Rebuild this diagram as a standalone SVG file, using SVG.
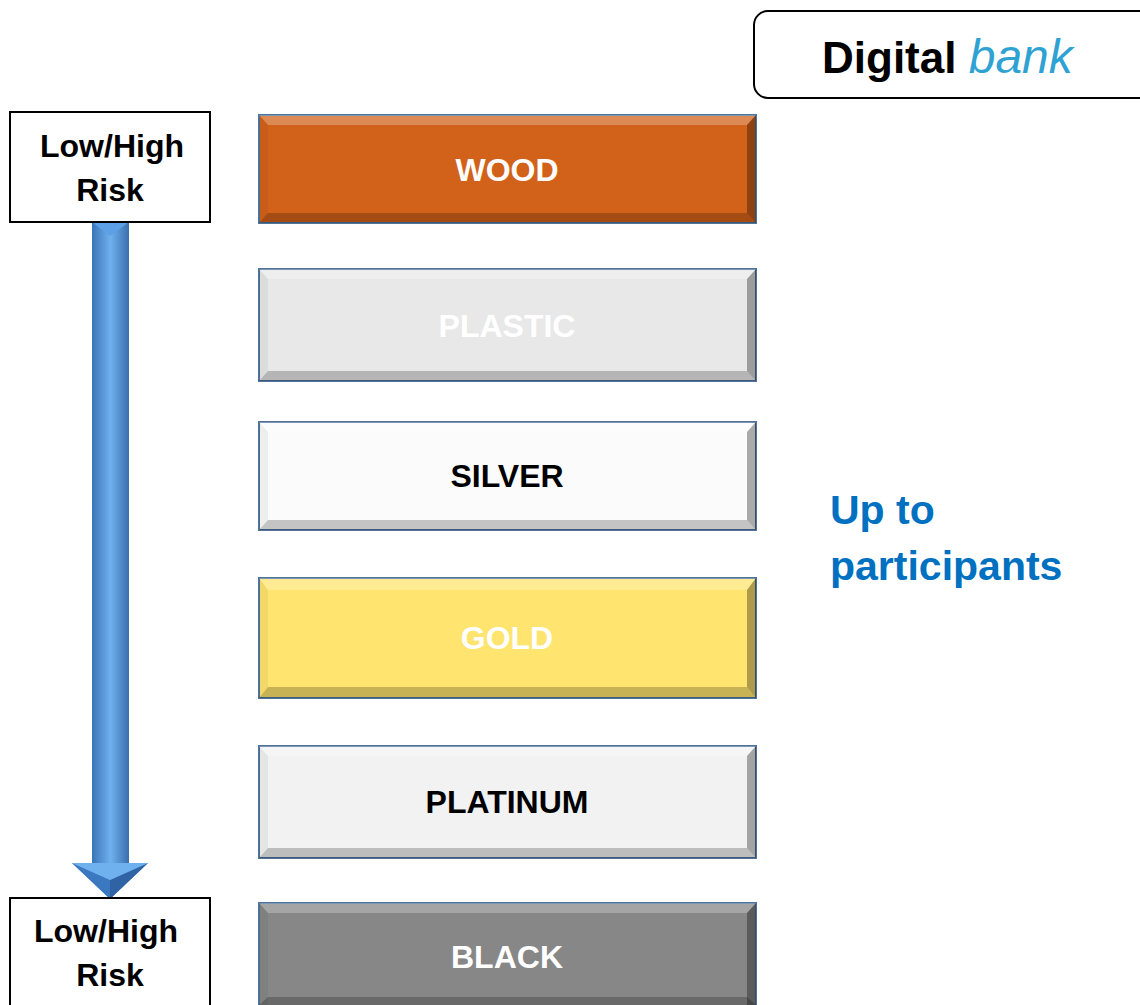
<svg xmlns="http://www.w3.org/2000/svg" width="1140" height="1005" viewBox="0 0 1140 1005">
<defs>
<linearGradient id="shaft" x1="0" y1="0" x2="1" y2="0">
<stop offset="0" stop-color="#3a74b8"/>
<stop offset="0.5" stop-color="#6fb0ee"/>
<stop offset="1" stop-color="#3a6fae"/>
</linearGradient>
</defs>
<style>
.lbl{font-family:"Liberation Sans",Arial,sans-serif;font-weight:bold;text-anchor:middle}
.box{fill:#fff;stroke:#000;stroke-width:2}
.bar{stroke:#4f7399;stroke-width:2}
.hl{fill:#fff;opacity:0.25}
.sh{fill:#000;opacity:0.22}
.lf{fill:#000;opacity:0.05}
.rt{fill:#000;opacity:0.32}
</style>
<rect width="1140" height="1005" fill="#fff"/>

<g id="digital-bank">
<rect x="754" y="11" width="400" height="87" rx="14" fill="#fff" stroke="#000" stroke-width="2"/>
<text x="822" y="73" font-family="Liberation Sans,Arial,sans-serif" font-size="44" font-weight="bold" fill="#000">Digital <tspan font-weight="normal" font-style="italic" font-size="48" fill="#2ea3d3">bank</tspan></text>
</g>

<g id="connectors">
<rect x="92" y="222" width="37" height="642" fill="url(#shaft)"/>
<polygon points="72,863 148,863 110,899" fill="#4f8fd6"/>
<polygon points="72,863 110,880 110,899" fill="#3b78c0"/>
<polygon points="148,863 110,880 110,899" fill="#2f63a3"/>
<polygon points="72,863 148,863 110,880" fill="#6fb0ee"/>
<polygon points="92,222 129,222 110,236" fill="#5da0e6"/>
</g>

<g id="risk-top">
<rect class="box" x="10" y="112" width="200" height="110"/>
<text class="lbl" x="112" y="157" font-size="32">Low/High</text>
<text class="lbl" x="110" y="201" font-size="32">Risk</text>
</g>

<g id="risk-bottom">
<rect class="box" x="10" y="898" width="200" height="120"/>
<text class="lbl" x="106" y="942" font-size="32">Low/High</text>
<text class="lbl" x="110" y="986" font-size="32">Risk</text>
</g>

<g id="wood">
<rect class="bar" x="259" y="115" width="497" height="108" fill="#d2621a"/>
<polygon class="hl" points="259,115 756,115 747,125 268,125"/>
<polygon class="sh" points="259,223 756,223 747,213 268,213"/>
<polygon class="lf" points="259,115 268,125 268,213 259,223"/>
<polygon class="rt" points="756,115 747,125 747,213 756,223"/>
<text class="lbl" x="507" y="181" font-size="32" fill="#fff">WOOD</text>
</g>

<g id="plastic">
<rect class="bar" x="259" y="269" width="497" height="112" fill="#e8e8e8"/>
<polygon class="hl" points="259,269 756,269 747,279 268,279"/>
<polygon class="sh" points="259,381 756,381 747,371 268,371"/>
<polygon class="lf" points="259,269 268,279 268,371 259,381"/>
<polygon class="rt" points="756,269 747,279 747,371 756,381"/>
<text class="lbl" x="507" y="337" font-size="32" fill="#fff">PLASTIC</text>
</g>

<g id="silver">
<rect class="bar" x="259" y="422" width="497" height="108" fill="#fbfbfb"/>
<polygon class="hl" points="259,422 756,422 747,432 268,432"/>
<polygon class="sh" points="259,530 756,530 747,520 268,520"/>
<polygon class="lf" points="259,422 268,432 268,520 259,530"/>
<polygon class="rt" points="756,422 747,432 747,520 756,530"/>
<text class="lbl" x="507" y="487" font-size="32" fill="#000">SILVER</text>
</g>

<g id="gold">
<rect class="bar" x="259" y="578" width="497" height="120" fill="#ffe46f"/>
<polygon class="hl" points="259,578 756,578 747,590 268,590"/>
<polygon class="sh" points="259,698 756,698 747,687 268,687"/>
<polygon class="lf" points="259,578 268,590 268,687 259,698"/>
<polygon class="rt" points="756,578 747,590 747,687 756,698"/>
<text class="lbl" x="507" y="649" font-size="32" fill="#fff">GOLD</text>
</g>

<g id="platinum">
<rect class="bar" x="259" y="746" width="497" height="112" fill="#f2f2f2"/>
<polygon class="hl" points="259,746 756,746 747,756 268,756"/>
<polygon class="sh" points="259,858 756,858 747,848 268,848"/>
<polygon class="lf" points="259,746 268,756 268,848 259,858"/>
<polygon class="rt" points="756,746 747,756 747,848 756,858"/>
<text class="lbl" x="507" y="813" font-size="32" fill="#000">PLATINUM</text>
</g>

<g id="black">
<rect class="bar" x="259" y="903" width="497" height="115" fill="#878787"/>
<polygon class="hl" points="259,903 756,903 747,913 268,913"/>
<polygon class="sh" points="259,1005 756,1005 747,997 268,997"/>
<polygon class="lf" points="259,903 268,913 268,1005 259,1005"/>
<polygon class="rt" points="756,903 747,913 747,1005 756,1005"/>
<text class="lbl" x="507" y="968" font-size="32" fill="#fff">BLACK</text>
</g>

<g id="participants">
<text x="830" y="524" font-family="Liberation Sans,Arial,sans-serif" font-size="41" font-weight="bold" fill="#0070c0">Up to</text>
<text x="830" y="580" font-family="Liberation Sans,Arial,sans-serif" font-size="41" font-weight="bold" fill="#0070c0">participants</text>
</g>
</svg>
